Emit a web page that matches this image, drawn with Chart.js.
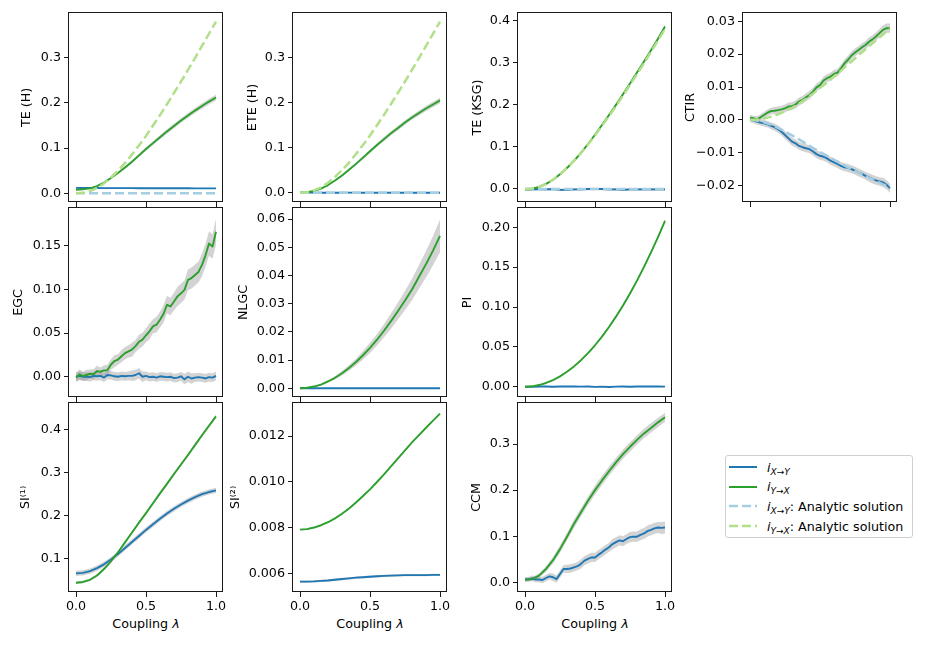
<!DOCTYPE html>
<html><head><meta charset="utf-8">
<script src="https://cdn.jsdelivr.net/npm/chart.js@4.4.1/dist/chart.umd.min.js"></script>
<style>
html,body{margin:0;padding:0;background:#fff;}
body{width:926px;height:649px;position:relative;overflow:hidden;font-family:'DejaVu Sans',sans-serif;color:#000;}
canvas{position:absolute;}
.xt{position:absolute;width:154px;text-align:center;font-size:12.7px;line-height:15px;white-space:nowrap;}
#leg{position:absolute;left:725px;top:455px;width:188px;height:83px;border:1px solid #cfcfcf;border-radius:3px;background:#fff;box-sizing:border-box;}
.lr{position:absolute;left:0;height:20px;display:flex;align-items:center;font-size:12.7px;white-space:nowrap;}
.lr svg{margin-left:3px;margin-right:10px;}
.sb{font-size:9px;position:relative;top:3px;}
</style></head><body>
<div class="xt" style="left:69px;top:616px">Coupling <i>λ</i></div>
<div class="xt" style="left:293px;top:616px">Coupling <i>λ</i></div>
<div class="xt" style="left:518px;top:616px">Coupling <i>λ</i></div>
<div id="leg">
 <div class="lr" style="top:1px"><svg width="28" height="6"><line x1="0" y1="3" x2="28" y2="3" stroke="#1f77b4" stroke-width="2"/></svg><span><i>i</i><span class="sb"><i>X</i>→<i>Y</i></span></span></div>
 <div class="lr" style="top:20.5px"><svg width="28" height="6"><line x1="0" y1="3" x2="28" y2="3" stroke="#2ca02c" stroke-width="2"/></svg><span><i>i</i><span class="sb"><i>Y</i>→<i>X</i></span></span></div>
 <div class="lr" style="top:40px"><svg width="28" height="6"><line x1="0" y1="3" x2="28" y2="3" stroke="#a6cee3" stroke-width="2.5" stroke-dasharray="9,4"/></svg><span><i>i</i><span class="sb"><i>X</i>→<i>Y</i></span>: Analytic solution</span></div>
 <div class="lr" style="top:60px"><svg width="28" height="6"><line x1="0" y1="3" x2="28" y2="3" stroke="#b2df8a" stroke-width="2.5" stroke-dasharray="9,4"/></svg><span><i>i</i><span class="sb"><i>Y</i>→<i>X</i></span>: Analytic solution</span></div>
</div>
<script>
// ---------- data ----------
const lam21 = [0,0.05,0.1,0.15,0.2,0.25,0.3,0.35,0.4,0.45,0.5,0.55,0.6,0.65,0.7,0.75,0.8,0.85,0.9,0.95,1];
const lam41 = [0,0.025,0.05,0.075,0.1,0.125,0.15,0.175,0.2,0.225,0.25,0.275,0.3,0.325,0.35,0.375,0.4,0.425,0.45,0.475,0.5,0.525,0.55,0.575,0.6,0.625,0.65,0.675,0.7,0.725,0.75,0.775,0.8,0.825,0.85,0.875,0.9,0.925,0.95,0.975,1];

const xTicks = [0, 0.5, 1];
const xTickLabels = ['0.0', '0.5', '1.0'];

// TE (H)
const teH_xy = [0.0120,0.0119,0.0118,0.0117,0.0116,0.0115,0.0115,0.0114,0.0114,0.0113,0.0113,0.0112,0.0112,0.0112,0.0111,0.0111,0.0111,0.0110,0.0110,0.0110,0.0110];
const teH_xy_err = [0.0008,0.0008,0.0008,0.0008,0.0008,0.0008,0.0008,0.0008,0.0008,0.0008,0.0008,0.0008,0.0008,0.0008,0.0008,0.0008,0.0008,0.0008,0.0008,0.0008,0.0008];
const teH_yx = [0.008,0.009,0.011,0.016,0.024,0.034,0.045,0.057,0.070,0.084,0.098,0.111,0.124,0.137,0.149,0.161,0.172,0.183,0.193,0.203,0.212];
const teH_yx_err = [0.001,0.001,0.001,0.0015,0.002,0.002,0.0025,0.003,0.003,0.0035,0.004,0.004,0.0045,0.005,0.005,0.005,0.0055,0.0055,0.006,0.006,0.006];
// analytic TE (shared by TE (H), ETE (H), TE (KSG))
const teAn_xy = [0,0,0,0,0,0,0,0,0,0,0,0,0,0,0,0,0,0,0,0,0];
const teAn_yx = [0,0.001,0.005,0.012,0.022,0.035,0.050,0.067,0.086,0.106,0.127,0.150,0.173,0.197,0.222,0.247,0.273,0.299,0.326,0.353,0.380];
// ETE (H)
const ete_xy = [0.0003,0.0002,0.0001,0,-0.0001,-0.0001,0,0.0001,0,-0.0002,-0.0001,0,0.0001,-0.0001,-0.0002,-0.0001,0,-0.0001,-0.0002,-0.0001,-0.0002];
const ete_xy_err = [0.001,0.001,0.001,0.001,0.001,0.001,0.001,0.001,0.001,0.001,0.001,0.001,0.001,0.001,0.001,0.001,0.001,0.001,0.001,0.001,0.001];
const ete_yx = [0.000,0.001,0.004,0.009,0.017,0.027,0.038,0.051,0.064,0.078,0.092,0.106,0.119,0.132,0.144,0.156,0.167,0.177,0.187,0.196,0.205];
const ete_yx_err = [0.0005,0.001,0.001,0.0015,0.002,0.002,0.0025,0.003,0.003,0.0035,0.004,0.004,0.0045,0.0045,0.005,0.005,0.005,0.0055,0.0055,0.006,0.006];
// TE (KSG)
const ksg_xy = [-0.001,-0.001,0.000,-0.001,0.000,-0.002,-0.002,-0.001,-0.001,0.000,0.000,0.000,-0.001,-0.001,-0.002,-0.001,-0.001,-0.001,-0.001,-0.001,-0.001];
const ksg_xy_err = [0.003,0.003,0.003,0.003,0.003,0.003,0.003,0.003,0.003,0.003,0.003,0.003,0.003,0.003,0.003,0.003,0.003,0.003,0.003,0.003,0.003];
const ksg_yx = [-0.001,0.000,0.005,0.012,0.022,0.035,0.050,0.067,0.086,0.107,0.129,0.152,0.176,0.200,0.225,0.251,0.277,0.303,0.330,0.357,0.386];
const ksg_yx_err = [0.003,0.003,0.003,0.003,0.003,0.003,0.003,0.003,0.003,0.003,0.003,0.003,0.003,0.003,0.003,0.003,0.003,0.003,0.004,0.004,0.004];
// CTIR
const ctir_xy = [0.0002,-0.0002,-0.0005,-0.0008,-0.0010,-0.0013,-0.0018,-0.0022,-0.0028,-0.0036,-0.0046,-0.0056,-0.0066,-0.0071,-0.0079,-0.0083,-0.0086,-0.0089,-0.0096,-0.0104,-0.0109,-0.0112,-0.0117,-0.0124,-0.0129,-0.0134,-0.0140,-0.0144,-0.0146,-0.0150,-0.0154,-0.0160,-0.0164,-0.0170,-0.0175,-0.0180,-0.0184,-0.0187,-0.0190,-0.0197,-0.0208];
const ctir_yx = [0.0007,0.0005,0.0002,0.0008,0.0015,0.0022,0.0027,0.0028,0.0030,0.0032,0.0035,0.0041,0.0042,0.0047,0.0056,0.0061,0.0069,0.0076,0.0086,0.0099,0.0106,0.0120,0.0127,0.0132,0.0140,0.0144,0.0157,0.0172,0.0183,0.0196,0.0205,0.0213,0.0221,0.0228,0.0238,0.0245,0.0254,0.0264,0.0274,0.0279,0.0279];
const ctir_err = [0.0008,0.0008,0.0009,0.0009,0.0010,0.0010,0.0010,0.0011,0.0011,0.0011,0.0012,0.0012,0.0012,0.0012,0.0012,0.0012,0.0012,0.0012,0.0012,0.0012,0.0012,0.0012,0.0012,0.0012,0.0012,0.0012,0.0012,0.0012,0.0012,0.0012,0.0012,0.0012,0.0012,0.0012,0.0013,0.0013,0.0013,0.0013,0.0014,0.0014,0.0014];
const ctirAn_xy = [0,-0.0002,-0.0007,-0.0014,-0.0024,-0.0035,-0.0047,-0.0059,-0.0072,-0.0085,-0.0097,-0.0109,-0.0121,-0.0133,-0.0144,-0.0155,-0.0166,-0.0176,-0.0186,-0.0196,-0.0205];
const ctirAn_yx = [0,0.0001,0.0004,0.0010,0.0017,0.0026,0.0037,0.0050,0.0064,0.0080,0.0097,0.0114,0.0132,0.0150,0.0169,0.0187,0.0206,0.0224,0.0242,0.0260,0.0277];
// EGC
const egc_xy = [0.000,0.001,0.000,0.000,-0.0005,0.001,0.0005,0.001,-0.001,0.002,0.0015,0.0005,0.000,0.001,0.0005,0.001,0.001,0.002,0.004,0.000,0.001,-0.0005,0.000,-0.001,0.0005,0.000,-0.0005,0.000,-0.0015,-0.001,0.0005,-0.003,0.000,-0.002,-0.001,-0.0005,-0.001,-0.002,-0.0005,-0.001,0.001];
const egc_xy_err = [0.005,0.005,0.005,0.005,0.005,0.005,0.005,0.005,0.005,0.005,0.005,0.005,0.005,0.005,0.005,0.005,0.006,0.006,0.006,0.006,0.005,0.005,0.005,0.005,0.005,0.005,0.005,0.005,0.005,0.005,0.005,0.006,0.006,0.006,0.005,0.005,0.005,0.005,0.005,0.005,0.005];
const egc_yx = [-0.001,0.0027,0.0008,0.002,0.0034,0.0027,0.0065,0.0057,0.0072,0.0076,0.014,0.018,0.0197,0.0235,0.027,0.029,0.031,0.035,0.040,0.0425,0.0475,0.052,0.0577,0.0596,0.0653,0.0718,0.0824,0.0805,0.0862,0.092,0.0955,0.0995,0.111,0.113,0.1165,0.120,0.128,0.139,0.1525,0.149,0.166];
const egc_yx_err = [0.005,0.006,0.005,0.006,0.005,0.006,0.006,0.005,0.006,0.006,0.006,0.007,0.006,0.007,0.007,0.007,0.008,0.007,0.008,0.008,0.008,0.009,0.008,0.009,0.009,0.010,0.010,0.010,0.010,0.011,0.011,0.011,0.012,0.012,0.012,0.012,0.013,0.013,0.014,0.014,0.015];
// NLGC
const nlgc_xy = [0,0,0,0,0,0,0,0,0,0,0,0,0,0,0,0,0,0,0,0,0];
const nlgc_xy_err = [0.0001,0.0001,0.0001,0.0001,0.0001,0.0001,0.0001,0.0001,0.0001,0.0001,0.0001,0.0001,0.0001,0.0001,0.0001,0.0001,0.0001,0.0001,0.0001,0.0001,0.0001];
const nlgc_yx = [0,0.0002,0.0006,0.0013,0.0024,0.0037,0.0053,0.0072,0.0093,0.0117,0.0143,0.0172,0.0204,0.0238,0.0274,0.0311,0.0350,0.0395,0.0440,0.0488,0.0540];
const nlgc_yx_err = [0.0001,0.0001,0.0002,0.0003,0.0004,0.0006,0.0008,0.0010,0.0012,0.0015,0.0018,0.0020,0.0023,0.0027,0.0030,0.0034,0.0038,0.0042,0.0047,0.0052,0.0058];
// PI
const pi_xy = [0.0000,-0.0002,0.0003,0.0002,0.0000,0.0003,0.0002,0.0004,0.0001,0.0002,-0.0002,0.0001,-0.0003,0.0001,0.0002,0.0000,0.0003,0.0004,0.0002,0.0003,0.0001];
const pi_xy_err = [0.0006,0.0006,0.0006,0.0006,0.0006,0.0006,0.0006,0.0006,0.0006,0.0006,0.0006,0.0006,0.0006,0.0006,0.0006,0.0006,0.0006,0.0006,0.0006,0.0006,0.0006];
const pi_yx = [0,0.0005,0.0021,0.0047,0.0083,0.0130,0.0187,0.0255,0.0333,0.0421,0.0520,0.0629,0.0749,0.0879,0.1019,0.1170,0.1331,0.1503,0.1685,0.1877,0.2080];
const pi_yx_err = [0.0005,0.0005,0.0006,0.0006,0.0007,0.0008,0.0008,0.0009,0.0010,0.0011,0.0012,0.0013,0.0014,0.0015,0.0016,0.0017,0.0018,0.0019,0.0020,0.0021,0.0022];
// SI(1)
const si1_xy = [0.065,0.066,0.070,0.077,0.086,0.097,0.110,0.124,0.138,0.152,0.166,0.179,0.192,0.204,0.215,0.225,0.234,0.242,0.249,0.254,0.258];
const si1_xy_err = [0.006,0.006,0.006,0.006,0.006,0.006,0.006,0.006,0.006,0.006,0.006,0.006,0.006,0.006,0.006,0.006,0.006,0.006,0.006,0.006,0.006];
const si1_yx = [0.043,0.045,0.050,0.060,0.075,0.093,0.114,0.137,0.160,0.183,0.205,0.228,0.251,0.273,0.296,0.318,0.340,0.363,0.386,0.408,0.430];
const si1_yx_err = [0.003,0.003,0.003,0.003,0.003,0.003,0.003,0.003,0.003,0.003,0.003,0.004,0.004,0.004,0.004,0.004,0.004,0.004,0.004,0.004,0.004];
// SI(2)
const si2_xy = [0.00567,0.00567,0.00568,0.00570,0.00572,0.00575,0.00578,0.00581,0.00584,0.00586,0.00588,0.00590,0.00592,0.00593,0.00594,0.00595,0.00595,0.00595,0.00595,0.00596,0.00596];
const si2_xy_err = [0.00005,0.00005,0.00005,0.00005,0.00005,0.00005,0.00005,0.00005,0.00005,0.00005,0.00005,0.00005,0.00005,0.00005,0.00005,0.00005,0.00005,0.00005,0.00005,0.00005,0.00005];
const si2_yx = [0.00793,0.00795,0.00802,0.00812,0.00825,0.00842,0.00862,0.00885,0.00911,0.00939,0.00968,0.01000,0.01033,0.01068,0.01103,0.01138,0.01172,0.01204,0.01236,0.01267,0.01297];
const si2_yx_err = [0.00003,0.00003,0.00003,0.00003,0.00003,0.00003,0.00003,0.00003,0.00003,0.00003,0.00003,0.00003,0.00003,0.00003,0.00003,0.00003,0.00003,0.00003,0.00003,0.00003,0.00003];
// CCM
const ccm_xy = [0.006,0.0065,0.0087,0.006,0.006,0.005,0.0094,0.013,0.011,0.007,0.018,0.029,0.029,0.030,0.0325,0.035,0.040,0.047,0.051,0.054,0.054,0.060,0.065,0.071,0.076,0.083,0.087,0.091,0.089,0.094,0.098,0.099,0.099,0.103,0.106,0.111,0.114,0.117,0.119,0.118,0.119];
const ccm_xy_err = [0.005,0.005,0.006,0.006,0.006,0.007,0.007,0.007,0.008,0.008,0.008,0.008,0.009,0.009,0.009,0.009,0.010,0.010,0.010,0.010,0.010,0.010,0.010,0.010,0.010,0.011,0.011,0.011,0.011,0.011,0.011,0.011,0.011,0.012,0.012,0.012,0.012,0.012,0.012,0.013,0.013];
const ccm_yx = [0.006,0.007,0.0145,0.029,0.048,0.072,0.099,0.127,0.152,0.177,0.200,0.221,0.241,0.260,0.278,0.294,0.309,0.323,0.335,0.347,0.358];
const ccm_yx_err = [0.004,0.004,0.005,0.006,0.007,0.008,0.008,0.009,0.009,0.009,0.010,0.010,0.010,0.010,0.010,0.010,0.010,0.010,0.010,0.010,0.010];

// tick values / labels
const tTE = [0, 0.1, 0.2, 0.3], lTE = ['0.0','0.1','0.2','0.3'];
const tKSG = [0, 0.1, 0.2, 0.3, 0.4], lKSG = ['0.0','0.1','0.2','0.3','0.4'];
const tCTIR = [-0.02, -0.01, 0, 0.01, 0.02, 0.03], lCTIR = ['\u22120.02','\u22120.01','0.00','0.01','0.02','0.03'];
const tEGC = [0, 0.05, 0.10, 0.15], lEGC = ['0.00','0.05','0.10','0.15'];
const tNLGC = [0, 0.01, 0.02, 0.03, 0.04, 0.05, 0.06], lNLGC = ['0.00','0.01','0.02','0.03','0.04','0.05','0.06'];
const tPI = [0, 0.05, 0.10, 0.15, 0.20], lPI = ['0.00','0.05','0.10','0.15','0.20'];
const tSI1 = [0.1, 0.2, 0.3, 0.4], lSI1 = ['0.1','0.2','0.3','0.4'];
const tSI2 = [0.006, 0.008, 0.010, 0.012], lSI2 = ['0.006','0.008','0.010','0.012'];
const tCCM = [0, 0.1, 0.2, 0.3], lCCM = ['0.0','0.1','0.2','0.3'];

// ---------- styles / layout ----------
const BLUE='#1f77b4', GREEN='#2ca02c', LBLUE='#a6cee3', LGREEN='#b2df8a', BAND='rgba(128,128,128,0.35)';
Chart.defaults.font.family = "'DejaVu Sans', sans-serif";
Chart.defaults.font.size = 12.7;
Chart.defaults.color = '#000';
const COL_L=[69,293,518,743], ROW_T=[13,208,403], PW=154, PH=189, PAD_T=8, PAD_R=12;

const panels = [
 {col:0,row:0,label:'TE (H)',labelX:27,yMin:-0.0192,yMax:0.3989,yt:tTE,yl:lTE,xl:false,series:[
   {x:lam21,y:teH_xy,err:teH_xy_err,c:BLUE},{x:lam21,y:teH_yx,err:teH_yx_err,c:GREEN},
   {x:lam21,y:teAn_xy,c:LBLUE,an:true},{x:lam21,y:teAn_yx,c:LGREEN,an:true}]},
 {col:1,row:0,label:'ETE (H)',labelX:253,yMin:-0.0207,yMax:0.3993,yt:tTE,yl:lTE,xl:false,series:[
   {x:lam21,y:ete_xy,err:ete_xy_err,c:BLUE},{x:lam21,y:ete_yx,err:ete_yx_err,c:GREEN},
   {x:lam21,y:teAn_xy,c:LBLUE,an:true},{x:lam21,y:teAn_yx,c:LGREEN,an:true}]},
 {col:2,row:0,label:'TE (KSG)',labelX:478,yMin:-0.0309,yMax:0.4183,yt:tKSG,yl:lKSG,xl:false,series:[
   {x:lam21,y:ksg_xy,err:ksg_xy_err,c:BLUE},{x:lam21,y:ksg_yx,err:ksg_yx_err,c:GREEN},
   {x:lam21,y:teAn_xy,c:LBLUE,an:true},{x:lam21,y:teAn_yx,c:LGREEN,an:true}]},
 {col:3,row:0,label:'CTIR',labelX:691,yMin:-0.02496,yMax:0.03253,yt:tCTIR,yl:lCTIR,xl:false,series:[
   {x:lam41,y:ctir_xy,err:ctir_err,c:BLUE},{x:lam41,y:ctir_yx,err:ctir_err,c:GREEN},
   {x:lam21,y:ctirAn_xy,c:LBLUE,an:true},{x:lam21,y:ctirAn_yx,c:LGREEN,an:true}]},
 {col:0,row:1,label:'EGC',labelX:19,yMin:-0.0232,yMax:0.1932,yt:tEGC,yl:lEGC,xl:false,series:[
   {x:lam41,y:egc_xy,err:egc_xy_err,c:BLUE},{x:lam41,y:egc_yx,err:egc_yx_err,c:GREEN}]},
 {col:1,row:1,label:'NLGC',labelX:244,yMin:-0.0031,yMax:0.0639,yt:tNLGC,yl:lNLGC,xl:false,series:[
   {x:lam21,y:nlgc_xy,err:nlgc_xy_err,c:BLUE},{x:lam21,y:nlgc_yx,err:nlgc_yx_err,c:GREEN}]},
 {col:2,row:1,label:'PI',labelX:468,yMin:-0.0129,yMax:0.2242,yt:tPI,yl:lPI,xl:false,series:[
   {x:lam21,y:pi_xy,err:pi_xy_err,c:BLUE},{x:lam21,y:pi_yx,err:pi_yx_err,c:GREEN}]},
 {col:0,row:2,label:'SI\u207D\u00B9\u207E',labelX:26,yMin:0.0216,yMax:0.461,yt:tSI1,yl:lSI1,xl:true,series:[
   {x:lam21,y:si1_xy,err:si1_xy_err,c:BLUE},{x:lam21,y:si1_yx,err:si1_yx_err,c:GREEN}]},
 {col:1,row:2,label:'SI\u207D\u00B2\u207E',labelX:236,yMin:0.005217,yMax:0.013435,yt:tSI2,yl:lSI2,xl:true,series:[
   {x:lam21,y:si2_xy,err:si2_xy_err,c:BLUE},{x:lam21,y:si2_yx,err:si2_yx_err,c:GREEN}]},
 {col:2,row:2,label:'CCM',labelX:477,yMin:-0.021,yMax:0.389,yt:tCCM,yl:lCCM,xl:true,series:[
   {x:lam41,y:ccm_xy,err:ccm_xy_err,c:BLUE},{x:lam21,y:ccm_yx,err:ccm_yx_err,c:GREEN}]}
];

const framePlugin = {id:'frame', afterDraw(chart){
  const {ctx, chartArea:a} = chart;
  ctx.save(); ctx.strokeStyle='#1a1a1a'; ctx.lineWidth=1;
  ctx.strokeRect(a.left-0.5, a.top-0.5, a.right-a.left, a.bottom-a.top);
  ctx.restore();
}};

function makePanel(p){
  const L=COL_L[p.col], T=ROW_T[p.row];
  const left=Math.round(p.labelX-7.6);
  const yw=L-left;
  const xh=p.xl?24:6;
  const top=T-PAD_T;
  const w=L+PW+PAD_R-left, h=T+PH+xh-top;
  const cv=document.createElement('canvas');
  cv.width=w; cv.height=h;
  cv.style.left=left+'px'; cv.style.top=top+'px'; cv.style.width=w+'px'; cv.style.height=h+'px';
  document.body.appendChild(cv);
  const ds=[];
  p.series.forEach(s=>{
    if(s.err){
      ds.push({data:s.x.map((v,i)=>({x:v,y:s.y[i]+s.err[i]})),borderColor:'transparent',borderWidth:0,pointRadius:0,fill:false,order:20});
      ds.push({data:s.x.map((v,i)=>({x:v,y:s.y[i]-s.err[i]})),borderColor:'transparent',borderWidth:0,pointRadius:0,fill:'-1',backgroundColor:BAND,order:20});
    }
  });
  p.series.forEach((s,k)=>{
    ds.push({data:s.x.map((v,i)=>({x:v,y:s.y[i]})),borderColor:s.c,borderWidth:s.an?2.5:1.9,
      borderDash:s.an?[9,4]:[],pointRadius:0,fill:false,tension:0,order:10-k,borderCapStyle:'butt',borderJoinStyle:'round'});
  });
  const grid={display:true,drawOnChartArea:false,drawTicks:true,tickLength:5,color:'#1a1a1a',lineWidth:1};
  new Chart(cv,{
    type:'line',
    data:{datasets:ds},
    options:{
      responsive:false,animation:false,events:[],
      layout:{padding:{top:PAD_T,right:PAD_R,left:0,bottom:0}},
      plugins:{legend:{display:false},tooltip:{enabled:false}},
      scales:{
        x:{type:'linear',min:-0.05,max:1.05,offset:false,
          afterBuildTicks:s=>{s.ticks=xTicks.map(v=>({value:v}));},
          afterFit:s=>{s.height=xh;s.paddingLeft=0;s.paddingRight=0;},
          ticks:{display:p.xl,autoSkip:false,maxRotation:0,padding:2,callback:(v,i)=>xTickLabels[i]},
          grid:grid,border:{display:false}},
        y:{type:'linear',min:p.yMin,max:p.yMax,
          afterBuildTicks:s=>{s.ticks=p.yt.map(v=>({value:v}));},
          afterFit:s=>{s.width=yw;s.paddingTop=0;s.paddingBottom=0;},
          ticks:{autoSkip:false,padding:3,callback:(v,i)=>p.yl[i]},
          grid:grid,border:{display:false},
          title:{display:true,text:p.label,padding:{top:0,bottom:0}}}
      }
    },
    plugins:[framePlugin]
  });
}
panels.forEach(makePanel);
</script>
</body></html>
